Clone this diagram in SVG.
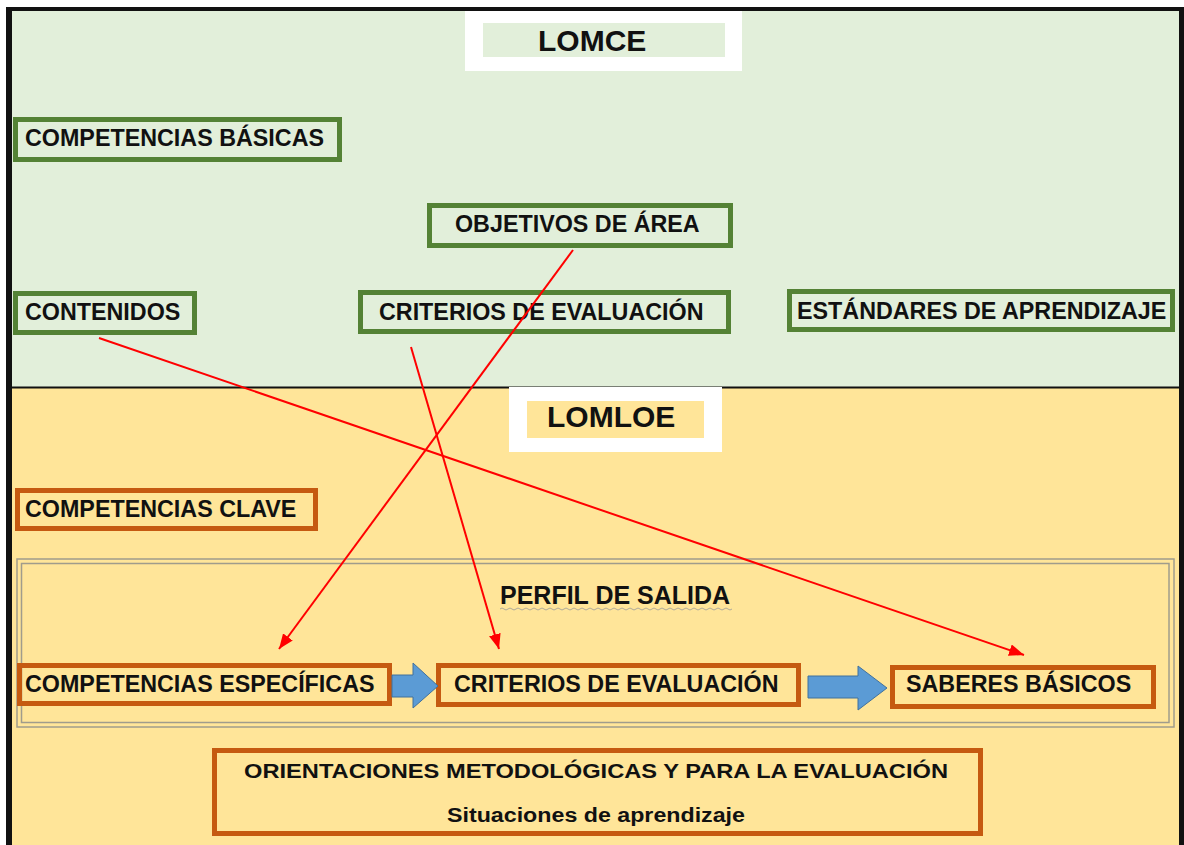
<svg xmlns="http://www.w3.org/2000/svg" width="1184" height="845" viewBox="0 0 1184 845">
<defs>
<style>
.t{font-family:"Liberation Sans",Arial,sans-serif;font-weight:bold;fill:#111;}
.n{font-size:23.3px;}
.g{fill:none;stroke:#548235;stroke-width:5;}
.o{fill:none;stroke:#c55a11;stroke-width:5;}
.red{stroke:#ff0000;stroke-width:2;fill:none;marker-end:url(#ah);}
.blue{fill:#5b9bd5;stroke:#41719c;stroke-width:1;}
</style>
<marker id="ah" markerUnits="userSpaceOnUse" markerWidth="16" markerHeight="12" refX="15" refY="6" orient="auto">
<path d="M0,0 L15,6 L0,12 Z" fill="#ff0000"/>
</marker>
</defs>
<rect width="1184" height="845" fill="#ffffff"/>
<g id="frame">
<rect x="10" y="10" width="1171" height="378" fill="#e2efda"/>
<rect x="10" y="388" width="1171" height="460" fill="#ffe599"/>
<line x1="10" y1="387.5" x2="1181" y2="387.5" stroke="#111" stroke-width="2"/>
<rect x="6" y="7" width="1178" height="4" fill="#111"/>
<rect x="6" y="7" width="6" height="840" fill="#111"/>
<rect x="1179" y="7" width="5" height="840" fill="#111"/>
</g>
<g id="lomce">
<rect x="465" y="11" width="277" height="60" fill="#ffffff"/>
<rect x="483" y="23" width="242" height="34" fill="#e2efda"/>
<text class="t" x="538" y="51" font-size="30">LOMCE</text>
</g>
<g id="lomloe">
<rect x="509" y="387" width="213" height="65" fill="#ffffff"/>
<rect x="527" y="401" width="177" height="37" fill="#ffe599"/>
<text class="t" x="547" y="427" font-size="30">LOMLOE</text>
</g>
<g id="competencias-basicas">
<rect class="g" x="15.5" y="119.5" width="324" height="40"/>
<text class="t n" x="25" y="146">COMPETENCIAS BÁSICAS</text>
</g>
<g id="objetivos-area">
<rect class="g" x="429.5" y="205.5" width="301" height="40"/>
<text class="t n" x="455" y="232">OBJETIVOS DE ÁREA</text>
</g>
<g id="contenidos">
<rect class="g" x="15.5" y="293.5" width="179" height="39"/>
<text class="t n" x="25" y="320">CONTENIDOS</text>
</g>
<g id="criterios-lomce">
<rect class="g" x="360.5" y="292.5" width="368" height="39"/>
<text class="t n" x="379" y="320">CRITERIOS DE EVALUACIÓN</text>
</g>
<g id="estandares">
<rect class="g" x="789.5" y="291.5" width="383" height="38"/>
<text class="t n" x="797" y="319">ESTÁNDARES DE APRENDIZAJE</text>
</g>
<g id="competencias-clave">
<rect class="o" x="17.5" y="490.5" width="298" height="38"/>
<text class="t n" x="25" y="517">COMPETENCIAS CLAVE</text>
</g>
<g id="perfil-salida">
<rect x="17" y="559" width="1157" height="168" fill="none" stroke="#a09c8c" stroke-width="1.5"/>
<rect x="21.5" y="563.5" width="1147.5" height="159" fill="none" stroke="#a09c8c" stroke-width="1.5"/>
<text class="t" x="500" y="604" font-size="25">PERFIL DE SALIDA</text>
<path d="M500,609 q2,-2 4,0 t4,0 t4,0 t4,0 t4,0 t4,0 t4,0 t4,0 t4,0 t4,0 t4,0 t4,0 t4,0 t4,0 t4,0 t4,0 t4,0 t4,0 t4,0 t4,0 t4,0 t4,0 t4,0 t4,0 t4,0 t4,0 t4,0 t4,0 t4,0 t4,0 t4,0 t4,0 t4,0 t4,0 t4,0 t4,0 t4,0 t4,0 t4,0 t4,0 t4,0 t4,0 t4,0 t4,0 t4,0 t4,0 t4,0 t4,0 t4,0 t4,0 t4,0 t4,0 t4,0 t4,0 t4,0 t4,0 t4,0 t4,0" fill="none" stroke="#9a9a9a" stroke-width="0.8"/>
</g>
<g id="competencias-especificas">
<rect class="o" x="19.5" y="665.5" width="370" height="38"/>
<text class="t n" x="25" y="692">COMPETENCIAS ESPECÍFICAS</text>
</g>
<g id="criterios-lomloe">
<rect class="o" x="438.5" y="665.5" width="360" height="39"/>
<text class="t n" x="454" y="692">CRITERIOS DE EVALUACIÓN</text>
</g>
<g id="saberes-basicos">
<rect class="o" x="892.5" y="667.5" width="261" height="39"/>
<text class="t n" x="906" y="692">SABERES BÁSICOS</text>
</g>
<g id="orientaciones">
<rect class="o" x="214.5" y="750.5" width="766" height="83"/>
<text class="t" x="244" y="778" font-size="20" textLength="704" lengthAdjust="spacingAndGlyphs">ORIENTACIONES METODOLÓGICAS Y PARA LA EVALUACIÓN</text>
<text class="t" x="447" y="822" font-size="19.5" textLength="298" lengthAdjust="spacingAndGlyphs">Situaciones de aprendizaje</text>
</g>
<g id="connectors">
<polygon class="blue" points="392,675 413,675 413,663 438,686 413,708 413,697 392,697"/>
<polygon class="blue" points="808,676 858,676 858,666 887,688 858,710 858,698 808,698"/>
<line class="red" x1="573" y1="250" x2="279" y2="649"/>
<line class="red" x1="411" y1="347" x2="499" y2="649"/>
<line class="red" x1="99" y1="338" x2="1024" y2="655"/>
</g>
</svg>
